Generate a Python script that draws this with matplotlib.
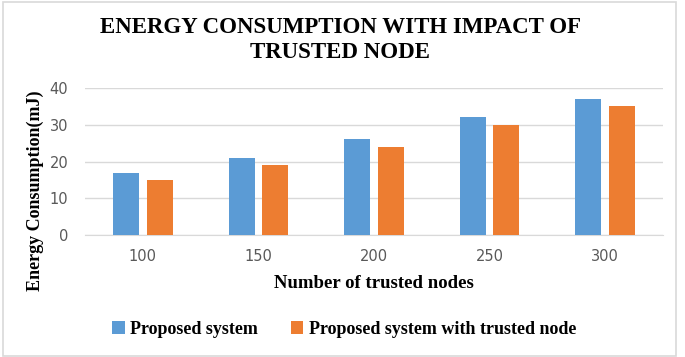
import numpy as np
import matplotlib.pyplot as plt
from matplotlib.patches import Rectangle

nodes = ["100", "150", "200", "250", "300"]
proposed = [17, 21, 26, 32, 37]
proposed_trusted = [15, 19, 24, 30, 35]
series_names = ["Proposed system", "Proposed system with trusted node"]
colors = ["#5b9bd5", "#ed7d31"]

serif = "Liberation Serif"

fig = plt.figure(figsize=(6.85, 3.57), dpi=100)
ax = fig.add_axes([85 / 685, 1 - 235 / 357, 578 / 685, 147 / 357])

x = np.arange(len(nodes))
w = 0.225
off = 0.145
ax.bar(x - off, proposed, w, color=colors[0], label=series_names[0], zorder=3)
ax.bar(x + off, proposed_trusted, w, color=colors[1], label=series_names[1], zorder=3)

ax.set_xlim(-0.5, len(nodes) - 0.5)
ax.set_ylim(0, 40)
ax.set_yticks([0, 10, 20, 30, 40])
ax.set_xticks(x)
ax.set_xticklabels(nodes)
ax.yaxis.grid(True, color="#d9d9d9", linewidth=1, zorder=0)
for s in ["top", "right", "left"]:
    ax.spines[s].set_visible(False)
ax.spines["bottom"].set_color("#d9d9d9")
ax.tick_params(length=0, labelsize=10.5, colors="#595959", pad=12)
ax.tick_params(axis="x", pad=10)

ax.set_xlabel("Number of trusted nodes", fontfamily=serif, fontweight="bold",
              fontsize=13.5)
ax.xaxis.set_label_coords(289 / 578, -(283 - 235) / 147)
ax.xaxis.label.set_va("center")
ax.set_ylabel("Energy Consumption(mJ)", fontfamily=serif, fontweight="bold",
              fontsize=13)
ax.yaxis.set_label_coords(-(85 - 35) / 578, (235 - 191) / 147)
ax.yaxis.label.set_va("center")

fig.text(0.497, 1 - 40 / 357, "ENERGY CONSUMPTION WITH IMPACT OF\nTRUSTED NODE",
         ha="center", va="center", fontfamily=serif, fontweight="bold",
         fontsize=16.5, linespacing=1.2)

leg = fig.legend(loc="center", bbox_to_anchor=(344 / 685, 1 - 329 / 357), ncol=2,
                 frameon=False, handlelength=0.7, handleheight=0.7,
                 handletextpad=0.3, columnspacing=1.8,
                 prop={"family": serif, "weight": "bold", "size": 13})

fig.patches.append(Rectangle((3 / 685, 1 / 357), 673 / 685, 354 / 357,
                             transform=fig.transFigure, fill=False,
                             edgecolor="#d9d9d9", linewidth=1.2))

fig.savefig("out.png", dpi=100)
